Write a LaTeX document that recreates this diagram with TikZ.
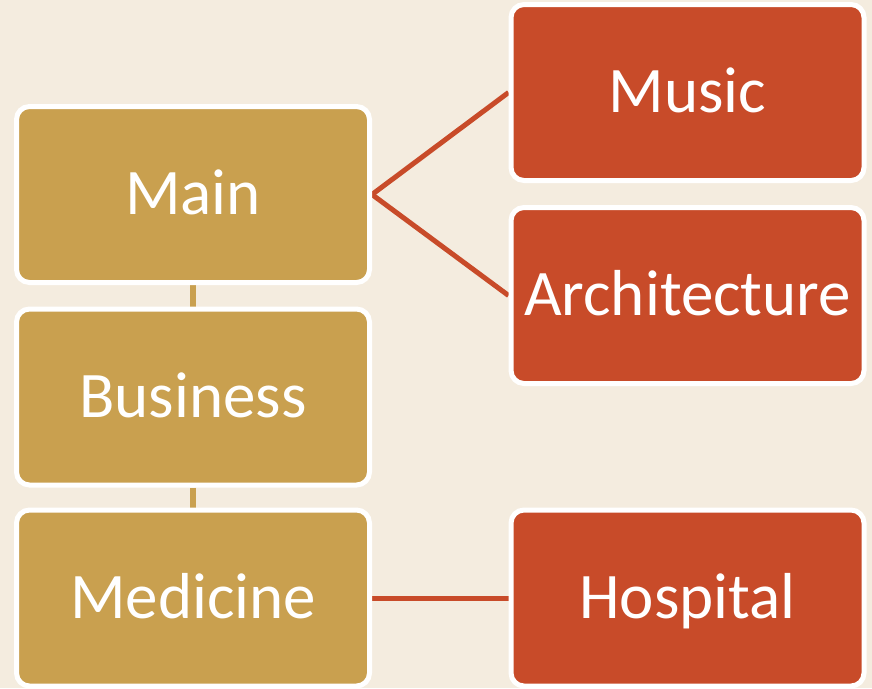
\documentclass[tikz,border=0pt]{standalone}
\usepackage{fontspec}
\setmainfont{Carlito}
\usetikzlibrary{backgrounds}
\definecolor{bgc}{HTML}{F4ECDF}
\definecolor{goldc}{HTML}{C9A04F}
\definecolor{redc}{HTML}{C84B29}
\tikzset{
  boxbase/.style={draw=white, line width=5pt, rounded corners=13pt,
    minimum width=353pt, minimum height=176pt, inner sep=0pt,
    text=white, font=\fontsize{65}{70}\selectfont,
    text height=56pt, text depth=16pt},
  goldbox/.style={boxbase, fill=goldc},
  redbox/.style={boxbase, fill=redc},
  goldlink/.style={draw=goldc, line width=6pt},
  redlink/.style={draw=redc, line width=5pt}
}
\begin{document}
\begin{tikzpicture}[x=1pt,y=-1pt]
\useasboundingbox (0,0) rectangle (872,688);
\node[goldbox] (main) at (193,194.5) {Main};
\node[goldbox] (business) at (193,397) {Business};
\node[goldbox] (medicine) at (193,598) {Medicine};
\node[redbox] (music) at (687.5,92.5) {Music};
\node[redbox] (arch) at (687.5,295.5) {Architecture};
\node[redbox] (hospital) at (687.5,598) {Hospital};
\begin{scope}[on background layer]
\fill[bgc] (0,0) rectangle (872,688);
\draw[goldlink] (main.south) -- (business.north);
\draw[goldlink] (business.south) -- (medicine.north);
\draw[redlink] (main.east) -- (music.west);
\draw[redlink] (main.east) -- (arch.west);
\draw[redlink] (medicine.east) -- (hospital.west);
\end{scope}
\end{tikzpicture}
\end{document}
